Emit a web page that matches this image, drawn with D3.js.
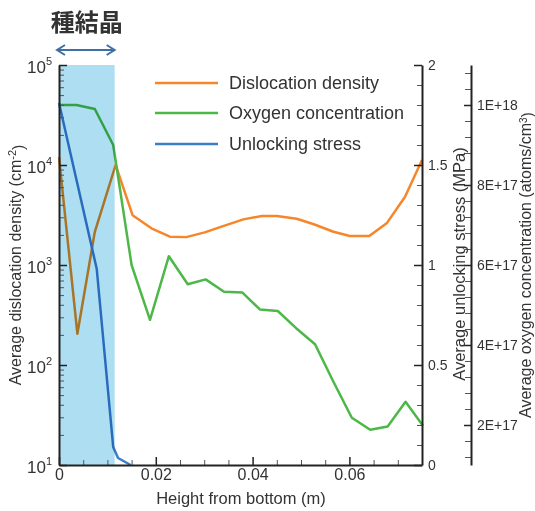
<!DOCTYPE html>
<meta charset="utf-8">
<script src="https://d3js.org/d3.v7.min.js"></script>
<style>
  body { margin: 0; background: #fff; }
  svg text { font-family: Arial, "Liberation Sans", sans-serif; fill: #333; }
</style>
<body>
<svg id="chart" width="535" height="511"></svg>
<script>
// height from bottom (m)
var dislocX = [0, 0.0038, 0.0074, 0.0117, 0.0152, 0.0191, 0.0229, 0.0263, 0.0301, 0.0339, 0.0381, 0.0419, 0.045, 0.0491, 0.0525, 0.0567, 0.0601, 0.0641, 0.0677, 0.0715, 0.075];
// dislocation density (cm^-2)
var dislocY = [12000, 205, 2150, 10000, 3150, 2330, 1920, 1900, 2120, 2450, 2860, 3090, 3090, 2900, 2570, 2150, 1950, 1950, 2610, 4820, 11200];

var oxyX = [0, 0.0036, 0.0074, 0.0112, 0.015, 0.0188, 0.0227, 0.0266, 0.0303, 0.0341, 0.0379, 0.0415, 0.0452, 0.049, 0.0529, 0.0567, 0.0605, 0.0643, 0.0679, 0.0716, 0.0752];
// oxygen concentration (atoms/cm^3)
var oxyY = [1.0e18, 1.0e18, 0.99e18, 0.9e18, 6.0e17, 4.63e17, 6.22e17, 5.52e17, 5.64e17, 5.33e17, 5.31e17, 4.89e17, 4.85e17, 4.42e17, 4.02e17, 3.08e17, 2.18e17, 1.88e17, 1.96e17, 2.58e17, 1.98e17];

var stressX = [0, 0.0078, 0.0112, 0.0122, 0.0148];
// unlocking stress (MPa)
var stressY = [1.81, 0.98, 0.09, 0.035, 0.0];

var seedRange = [0, 0.0115];

var svg = d3.select("#chart");
var pL = 59, pR = 422, pT = 65, pB = 465;

var x = d3.scaleLinear().domain([0, 0.075]).range([pL, pR]);
var yD = d3.scaleLog().domain([10, 1e5]).range([pB, pT]);
var yS = d3.scaleLinear().domain([0, 2]).range([pB, pT]);
var yO = d3.scaleLinear().domain([1e17, 1.1e18]).range([pB, pT]);

var cOrange = "#f7862a", cGreen = "#4cb848", cBlue = "#3c7cc8";

// lines
function drawLine(xs, ys, yScale, color) {
  var pts = xs.map(function(v, i) { return [v, ys[i]]; });
  svg.append("path")
    .datum(pts)
    .attr("fill", "none")
    .attr("stroke", color)
    .attr("stroke-width", 2.5)
    .attr("stroke-linejoin", "round")
    .attr("d", d3.line().x(function(d) { return x(d[0]); }).y(function(d) { return yScale(d[1]); }));
}
drawLine(dislocX, dislocY, yD, cOrange);
drawLine(oxyX, oxyY, yO, cGreen);
drawLine(stressX, stressY, yS, cBlue);

// seed crystal band
svg.append("rect")
  .attr("x", x(seedRange[0]))
  .attr("y", pT)
  .attr("width", x(seedRange[1]) - x(seedRange[0]))
  .attr("height", pB - pT)
  .attr("fill", "#addef2")
  .style("mix-blend-mode", "multiply");

// arrow + title
var arrowY = 50, ax0 = x(seedRange[0]) - 2, ax1 = x(seedRange[1]);
var arrow = svg.append("g").attr("stroke", "#3e6fa6").attr("stroke-width", 2).attr("fill", "none");
arrow.append("line").attr("x1", ax0).attr("x2", ax1).attr("y1", arrowY).attr("y2", arrowY);
arrow.append("path").attr("d", "M" + (ax0 + 8) + "," + (arrowY - 5) + "L" + ax0 + "," + arrowY + "L" + (ax0 + 8) + "," + (arrowY + 5));
arrow.append("path").attr("d", "M" + (ax1 - 8) + "," + (arrowY - 5) + "L" + ax1 + "," + arrowY + "L" + (ax1 - 8) + "," + (arrowY + 5));

svg.append("text")
  .attr("x", (ax0 + ax1) / 2 + 1).attr("y", 31)
  .attr("text-anchor", "middle")
  .style("font-family", "'Noto Sans CJK JP', sans-serif")
  .style("font-size", "24px").style("font-weight", "bold")
  .text("種結晶");

function styleAxis(g) {
  g.selectAll(".domain").attr("stroke", "#222").attr("stroke-width", 2);
  g.selectAll(".tick line").attr("stroke", "#222").attr("stroke-width", 1.5);
  g.selectAll(".tick text").style("font-size", "16px").attr("fill", "#333");
}
function styleMinor(g) {
  g.selectAll(".tick line").attr("stroke", "#555");
  g.select(".domain").remove();
}

// left log axis
var minorLog = [];
for (var k = 1; k < 5; k++) for (var m = 2; m < 10; m++) minorLog.push(m * Math.pow(10, k));
svg.append("g").attr("transform", "translate(" + pL + ",0)")
  .call(d3.axisLeft(yD).tickValues(minorLog).tickSize(-5).tickFormat(""))
  .call(styleMinor);
var gl = svg.append("g").attr("transform", "translate(" + pL + ",0)")
  .call(d3.axisLeft(yD).tickValues([10, 100, 1000, 1e4, 1e5]).tickSize(-8).tickSizeOuter(0).tickPadding(7).tickFormat(function() { return "10"; }))
  .call(styleAxis);
gl.selectAll(".tick text").style("font-size", "17px").attr("dy", "0.45em")
  .append("tspan").attr("dy", "-0.75em").style("font-size", "11px")
  .text(function(d) { return Math.round(Math.log10(d)); });

// bottom axis
var minorX = d3.range(1, 16).map(function(i) { return i * 0.005; }).filter(function(v) { return Math.abs(v * 50 - Math.round(v * 50)) > 1e-6; });
svg.append("g").attr("transform", "translate(0," + pB + ")")
  .call(d3.axisBottom(x).tickValues(minorX).tickSize(-5).tickFormat(""))
  .call(styleMinor);
svg.append("g").attr("transform", "translate(0," + pB + ")")
  .call(d3.axisBottom(x).tickValues([0, 0.02, 0.04, 0.06]).tickSize(-8).tickSizeOuter(0).tickPadding(4)
    .tickFormat(function(d) { return d === 0 ? "0" : d3.format(".2f")(d); }))
  .call(styleAxis);

// right stress axis
var minorS = d3.range(1, 20).map(function(i) { return i / 10; }).filter(function(v) { return Math.round(v * 10) % 5 !== 0; });
svg.append("g").attr("transform", "translate(" + pR + ",0)")
  .call(d3.axisRight(yS).tickValues(minorS).tickSize(-5).tickFormat(""))
  .call(styleMinor);
var gs = svg.append("g").attr("transform", "translate(" + pR + ",0)")
  .call(d3.axisRight(yS).tickValues([0, 0.5, 1, 1.5, 2]).tickSize(-8).tickSizeOuter(0).tickPadding(6).tickFormat(d3.format("")))
  .call(styleAxis);
gs.selectAll(".tick text").style("font-size", "14px");

// oxygen axis
var oxAxisX = 471;
var minorO = [];
for (var v = 1.2e17; v < 1.1e18; v += 4e16) { if (Math.abs(v / 2e17 - Math.round(v / 2e17)) > 1e-6) minorO.push(v); }
svg.append("g").attr("transform", "translate(" + oxAxisX + ",0)")
  .call(d3.axisRight(yO).tickValues(minorO).tickSize(-6).tickFormat(""))
  .call(styleMinor);
var go = svg.append("g").attr("transform", "translate(" + oxAxisX + ",0)")
  .call(d3.axisRight(yO).tickValues([2e17, 4e17, 6e17, 8e17, 1e18]).tickSize(-7).tickSizeOuter(0).tickPadding(6)
    .tickFormat(function(d) { var e = Math.floor(Math.log10(d) + 1e-9); return Math.round(d / Math.pow(10, e)) + "E+" + e; }))
  .call(styleAxis);
go.selectAll(".tick text").style("font-size", "14px");

// axis titles
var lt = svg.append("text").attr("transform", "translate(21,265) rotate(-90)").attr("text-anchor", "middle")
  .style("font-size", "16px").text("Average dislocation density  (cm");
lt.append("tspan").attr("dy", "-0.5em").style("font-size", "11px").text("-2");
lt.append("tspan").attr("dy", "0.5em").text(")");

svg.append("text").attr("x", 241).attr("y", 504).attr("text-anchor", "middle")
  .style("font-size", "16.5px").text("Height from bottom (m)");

svg.append("text").attr("transform", "translate(465,264) rotate(-90)").attr("text-anchor", "middle")
  .style("font-size", "16.5px").text("Average unlocking stress (MPa)");

var ot = svg.append("text").attr("transform", "translate(531,265) rotate(-90)").attr("text-anchor", "middle")
  .style("font-size", "16px").text("Average oxygen concentration (atoms/cm");
ot.append("tspan").attr("dy", "-0.4em").style("font-size", "10px").text("3");
ot.append("tspan").attr("dy", "0.4em").text(")");

// legend
var legend = [["Dislocation density", cOrange, 83], ["Oxygen concentration", cGreen, 113], ["Unlocking stress", cBlue, 144]];
legend.forEach(function(d) {
  svg.append("line").attr("x1", 155).attr("x2", 218).attr("y1", d[2]).attr("y2", d[2])
    .attr("stroke", d[1]).attr("stroke-width", 2.5);
  svg.append("text").attr("x", 229).attr("y", d[2]).attr("dy", "0.35em")
    .style("font-size", "18px").text(d[0]);
});
</script>
</body>
